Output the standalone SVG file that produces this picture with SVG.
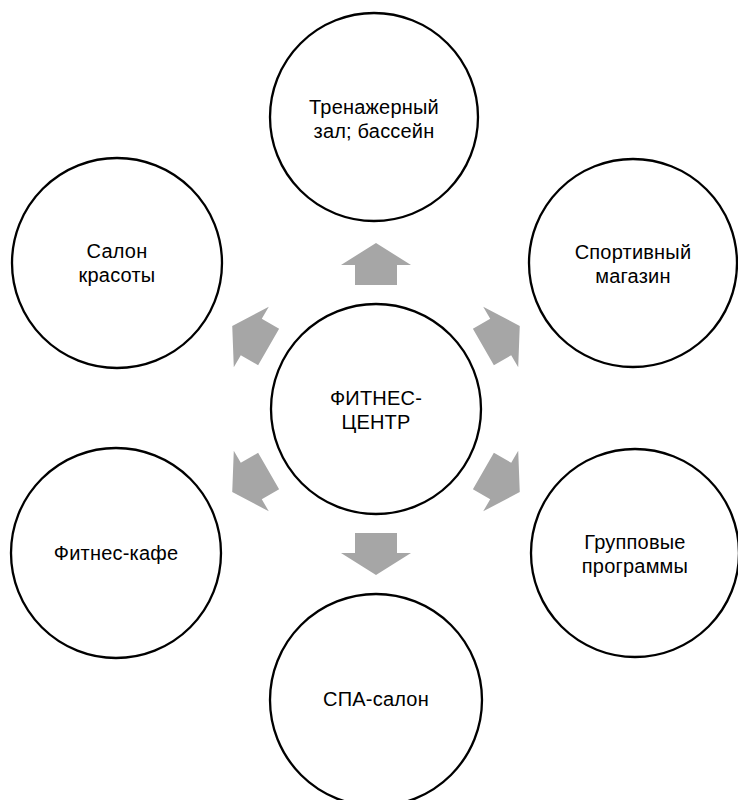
<svg xmlns="http://www.w3.org/2000/svg" width="738" height="800" viewBox="0 0 738 800">
<style>
.c{fill:#fff;stroke:#000;stroke-width:2.3}
.t{font-family:"Liberation Sans","DejaVu Sans",sans-serif;font-size:20px;fill:#000;text-anchor:middle;letter-spacing:0.2px}
.a{fill:#a6a6a6}
</style>
<defs>
<path id="arr" d="M124,-21 L144,-21 L144,-35 L166,0 L144,35 L144,21 L124,21 Z"/>
</defs>
<rect width="738" height="800" fill="#fff"/>
<g id="connectors" class="a">
<use href="#arr" transform="translate(376,409) rotate(-90)"/>
<use href="#arr" transform="translate(376,409) rotate(-30)"/>
<use href="#arr" transform="translate(376,409) rotate(30)"/>
<use href="#arr" transform="translate(376,409) rotate(90)"/>
<use href="#arr" transform="translate(376,409) rotate(150)"/>
<use href="#arr" transform="translate(376,409) rotate(210)"/>
</g>
<g id="center">
<circle class="c" cx="376" cy="409" r="105"/>
<text class="t" x="376" y="405">ФИТНЕС-<tspan x="376" dy="23.5">ЦЕНТР</tspan></text>
</g>
<g id="n-top">
<circle class="c" cx="374" cy="117" r="104"/>
<text class="t" x="374" y="114">Тренажерный<tspan x="374" dy="24">зал; бассейн</tspan></text>
</g>
<g id="n-upper-right">
<circle class="c" cx="633" cy="263" r="104"/>
<text class="t" x="633" y="259">Спортивный<tspan x="633" dy="24">магазин</tspan></text>
</g>
<g id="n-lower-right">
<circle class="c" cx="635" cy="553" r="104"/>
<text class="t" x="635" y="549">Групповые<tspan x="635" dy="24">программы</tspan></text>
</g>
<g id="n-bottom">
<circle class="c" cx="376" cy="700" r="106"/>
<text class="t" x="376" y="706">СПА-салон</text>
</g>
<g id="n-lower-left">
<circle class="c" cx="116" cy="553" r="105"/>
<text class="t" x="116" y="560">Фитнес-кафе</text>
</g>
<g id="n-upper-left">
<circle class="c" cx="117" cy="263" r="105"/>
<text class="t" x="117" y="258">Салон<tspan x="117" dy="24">красоты</tspan></text>
</g>
</svg>
